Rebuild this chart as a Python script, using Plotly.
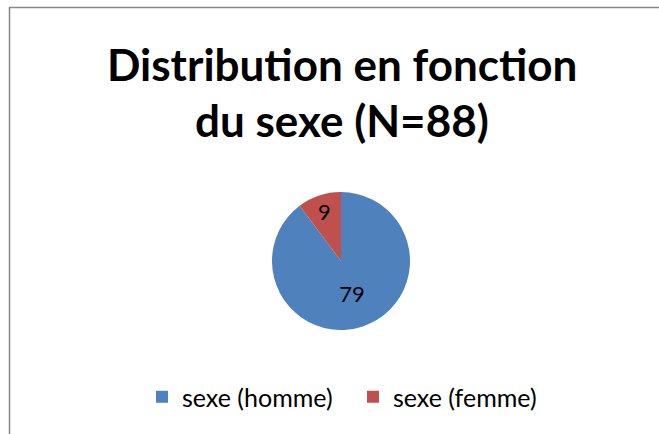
import plotly.graph_objects as go

labels = ["sexe (homme)", "sexe (femme)"]
values = [79, 9]
colors = ["#4F81BD", "#C0504D"]
title_lines = ["Distribution en fonction", "du sexe (N=88)"]

W, H = 659, 434
FONT = "Lato, Calibri, 'Open Sans', sans-serif"

def px(x):
    return x / W

def py(y):
    return 1 - y / H

fig = go.Figure(go.Pie(
    labels=labels, values=values, sort=False, direction="clockwise", rotation=0,
    marker=dict(colors=colors),
    textinfo="value", textposition="inside",
    insidetextorientation="horizontal",
    textfont=dict(family=FONT, size=22, color="black"),
    domain=dict(x=[px(272), px(410)], y=[py(330), py(192)]),
    hoverinfo="label+value",
))

annotations = []
for i, line in enumerate(title_lines):
    annotations.append(dict(
        text="<b>%s</b>" % line, x=px(342), y=py([64, 120][i]),
        xref="paper", yref="paper", showarrow=False,
        xanchor="center", yanchor="middle",
        font=dict(family=FONT, size=44, color="black"),
    ))

shapes = [
    dict(type="line", xref="paper", yref="paper", x0=px(9), x1=1.0, y0=py(7.5), y1=py(7.5),
         line=dict(color="#868686", width=1.5)),
    dict(type="line", xref="paper", yref="paper", x0=px(9.5), x1=px(9.5), y0=0, y1=py(7),
         line=dict(color="#868686", width=1.5)),
]

fig.update_layout(
    width=W, height=H,
    margin=dict(l=0, r=0, t=0, b=0),
    paper_bgcolor="white", plot_bgcolor="white",
    showlegend=True,
    legend=dict(orientation="h", x=px(353), xanchor="center", y=py(397), yanchor="middle",
                font=dict(family=FONT, size=25, color="black"), itemwidth=30,
                entrywidth=166, entrywidthmode="pixels",
                traceorder="normal"),
    uniformtext=dict(minsize=22, mode="show"),
    annotations=annotations,
    shapes=shapes,
)

fig.write_html("out.html", config={"displayModeBar": False},
               post_script="document.body.style.margin='0';document.body.style.overflow='hidden';")
